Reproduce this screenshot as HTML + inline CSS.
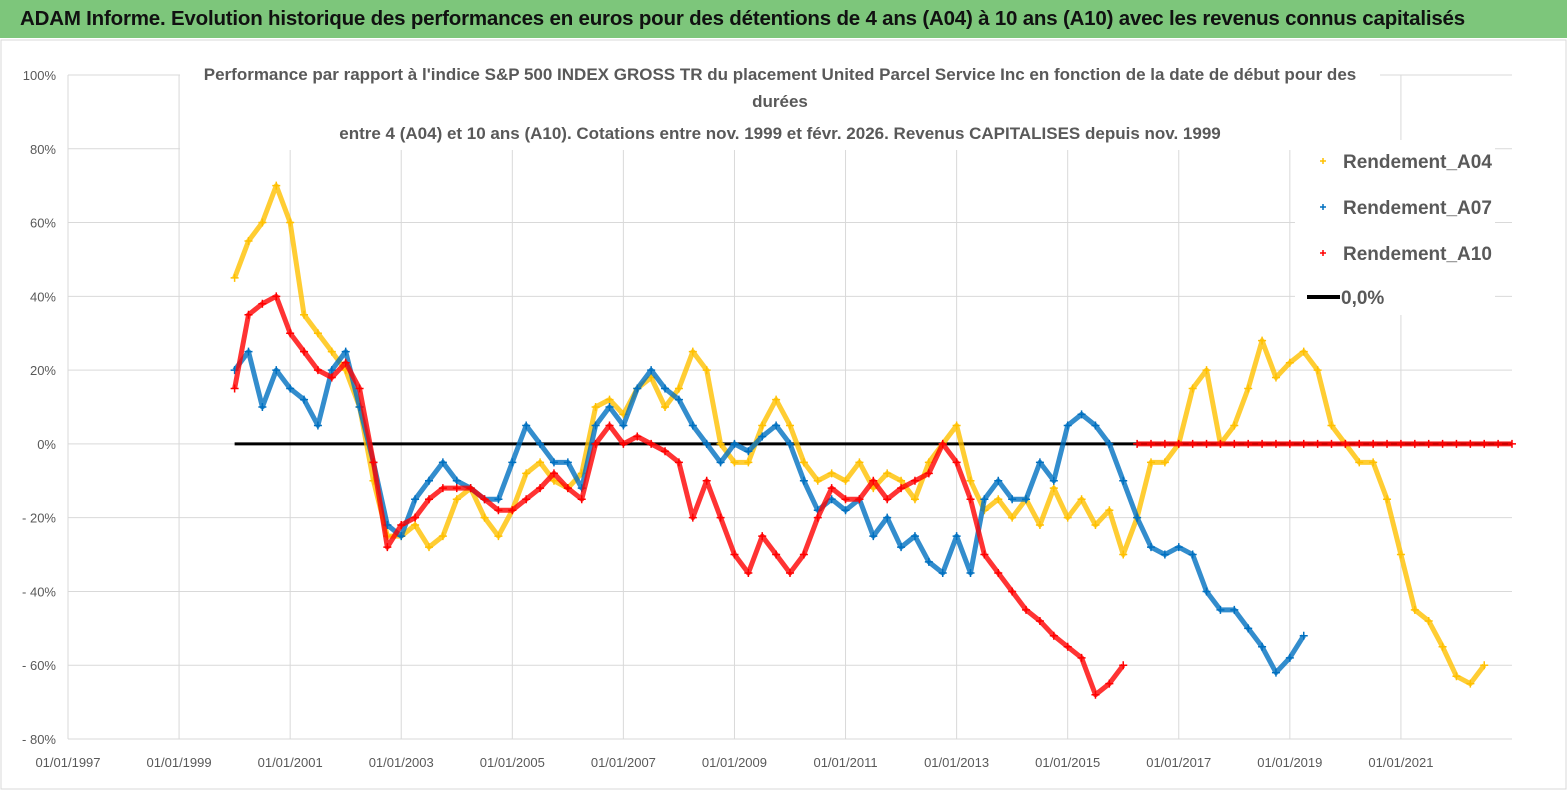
<!DOCTYPE html>
<html><head><meta charset="utf-8">
<style>
body{margin:0;width:1567px;height:790px;background:#fff;overflow:hidden;font-family:"Liberation Sans",sans-serif;}
#banner{position:absolute;left:0;top:0;width:1567px;height:38px;background:#7dc67b;}
#banner span{position:absolute;left:20px;top:7px;font-size:20.5px;font-weight:bold;color:#111;letter-spacing:-0.2px;}
svg{position:absolute;left:0;top:0;}
</style></head><body>
<div id="banner"><span>ADAM Informe. Evolution historique des performances en euros pour des détentions de 4 ans (A04) à 10 ans (A10) avec les revenus connus capitalisés</span></div>
<svg id="chart" width="1567" height="790"></svg>
<script>
const yTicks=[100,80,60,40,20,0,-20,-40,-60,-80];
const yTickLabels=["100%","80%","60%","40%","20%","0%","- 20%","- 40%","- 60%","- 80%"];
const xTickYears=[1997,1999,2001,2003,2005,2007,2009,2011,2013,2015,2017,2019,2021];
const step=0.25;
const a04Start=2000.0;
const a04=[45,55,60,70,60,35,30,25,20,10,-10,-25,-25,-22,-28,-25,-15,-12,-20,-25,-18,-8,-5,-10,-12,-8,10,12,8,15,18,10,15,25,20,0,-5,-5,5,12,5,-5,-10,-8,-10,-5,-12,-8,-10,-15,-5,0,5,-10,-18,-15,-20,-15,-22,-12,-20,-15,-22,-18,-30,-20,-5,-5,0,15,20,0,5,15,28,18,22,25,20,5,0,-5,-5,-15,-30,-45,-48,-55,-63,-65,-60];
const a07Start=2000.0;
const a07=[20,25,10,20,15,12,5,20,25,10,-5,-22,-25,-15,-10,-5,-10,-12,-15,-15,-5,5,0,-5,-5,-12,5,10,5,15,20,15,12,5,0,-5,0,-2,2,5,0,-10,-18,-15,-18,-15,-25,-20,-28,-25,-32,-35,-25,-35,-15,-10,-15,-15,-5,-10,5,8,5,0,-10,-20,-28,-30,-28,-30,-40,-45,-45,-50,-55,-62,-58,-52];
const a10Start=2000.0;
const a10=[15,35,38,40,30,25,20,18,22,15,-5,-28,-22,-20,-15,-12,-12,-12,-15,-18,-18,-15,-12,-8,-12,-15,0,5,0,2,0,-2,-5,-20,-10,-20,-30,-35,-25,-30,-35,-30,-20,-12,-15,-15,-10,-15,-12,-10,-8,0,-5,-15,-30,-35,-40,-45,-48,-52,-55,-58,-68,-65,-60,0,0,0,0,0,0,0,0,0,0,0,0,0,0,0,0,0,0,0,0,0,0,0,0,0,0,0,0,0,0,0];

const svg=document.getElementById('chart');
const NS='http://www.w3.org/2000/svg';
const X0=68,X1=1512,Y100=75,Y80n=739;
const xs=y=>X0+(y-1997)*(X1-X0)/26;
const ys=v=>Y100+(100-v)*(Y80n-Y100)/180;
function el(t,a){const e=document.createElementNS(NS,t);for(const k in a)e.setAttribute(k,a[k]);svg.appendChild(e);return e;}

let f=el('rect',{x:1,y:40,width:1565,height:749,fill:'none',stroke:'#d9d9d9'});


yTicks.forEach((v,i)=>{
  let g=el('line',{x1:X0,x2:X1,y1:ys(v),y2:ys(v),stroke:'#d9d9d9','stroke-width':1});
  
  
  let t=el('text',{x:56,y:ys(v)+5,'text-anchor':'end','font-size':13,fill:'#595959','font-family':'Liberation Sans, sans-serif'});
  t.textContent=yTickLabels[i];
  
  
});
xTickYears.forEach(y=>{
  let g=el('line',{x1:xs(y),x2:xs(y),y1:Y100,y2:Y80n,stroke:'#d9d9d9','stroke-width':1});
  
  
  let t=el('text',{x:xs(y),y:767,'text-anchor':'middle','font-size':13,fill:'#595959','font-family':'Liberation Sans, sans-serif'});
  t.textContent='01/01/'+y;
  
  
});
let z=el('line',{x1:xs(2000),x2:X1,y1:ys(0),y2:ys(0),stroke:'#000','stroke-width':3});



function series(arr,start,color,name){
  const pts=[];
  arr.forEach((v,i)=>{const x=xs(start+i*step);if(x<=X1)pts.push([x,ys(v),v]);});
  let segs=[[]];
  pts.forEach((p,i)=>{
    if(i>0&&Math.abs(p[2]-pts[i-1][2])>40)segs.push([]);
    segs[segs.length-1].push(p);
  });
  segs.forEach(s=>{
    let pl=el('polyline',{points:s.map(p=>p[0]+','+p[1]).join(' '),fill:'none',stroke:color,'stroke-width':5,'stroke-linejoin':'round','stroke-opacity':0.8});
    
    
  });
  pts.forEach(p=>{
    let m=el('path',{d:`M${p[0]-4},${p[1]}h8M${p[0]},${p[1]-4}v8`,stroke:color,'stroke-width':1.5});
    
    
  });
}
series(a04,a04Start,'#ffc000','rendement-a04');
series(a07,a07Start,'#0070c0','rendement-a07');
series(a10,a10Start,'#ff0000','rendement-a10');

const titleLines=["Performance par rapport à l'indice S&P 500 INDEX GROSS TR  du placement United Parcel Service Inc en fonction de la date de début pour des","durées","entre 4 (A04) et 10 ans (A10). Cotations entre nov. 1999 et févr. 2026. Revenus CAPITALISES depuis nov. 1999"];
const bg=el('rect',{x:180,y:58,width:1200,height:92,fill:'#fff'});


[80,107,139].forEach((yy,i)=>{
  let t=el('text',{x:780,y:yy,'text-anchor':'middle','font-size':17,'font-weight':'bold',fill:'#595959','font-family':'Liberation Sans, sans-serif'});
  t.textContent=titleLines[i];
  
  
});
const lb=el('rect',{x:1295,y:140,width:200,height:175,fill:'#fff'});


const legNames=['Rendement_A04','Rendement_A07','Rendement_A10'];
const legColors=['#ffc000','#0070c0','#ff0000'];
legNames.forEach((n,i)=>{
  const cy=161+i*46;
  let m=el('path',{d:`M1320,${cy}h6M1323,${cy-3}v6`,stroke:legColors[i],'stroke-width':1.5});
  
  
  let t=el('text',{x:1343,y:cy+7,'font-size':19,'font-weight':'bold',fill:'#595959','font-family':'Liberation Sans, sans-serif'});
  t.textContent=n;
  
  
});
let ll=el('line',{x1:1307,x2:1340,y1:297,y2:297,stroke:'#000','stroke-width':4});


let lt=el('text',{x:1341,y:304,'font-size':19,'font-weight':'bold',fill:'#595959','font-family':'Liberation Sans, sans-serif'});
lt.textContent='0,0%';


</script>
</body></html>
